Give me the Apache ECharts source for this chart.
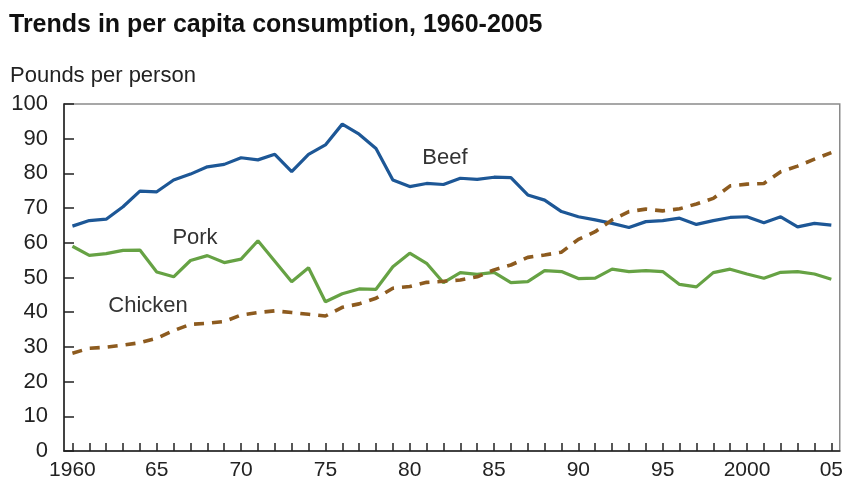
<!DOCTYPE html>
<html><head><meta charset="utf-8">
<script src="https://cdn.jsdelivr.net/npm/echarts@6/dist/echarts.min.js"></script>
<style>html,body{margin:0;padding:0;background:#fff}#c{width:846px;height:484px}</style>
</head><body><div id="c"></div>
<script>
const years = ['1960','1961','1962','1963','1964','1965','1966','1967','1968','1969',
  '1970','1971','1972','1973','1974','1975','1976','1977','1978','1979',
  '1980','1981','1982','1983','1984','1985','1986','1987','1988','1989',
  '1990','1991','1992','1993','1994','1995','1996','1997','1998','1999',
  '2000','2001','2002','2003','2004','2005'];
const beef = [64.8, 66.4, 66.8, 70.4, 74.9, 74.7, 78.1, 79.8, 81.9, 82.6,
  84.5, 83.9, 85.5, 80.5, 85.5, 88.2, 94.2, 91.3, 87.2, 78.1,
  76.2, 77.1, 76.8, 78.6, 78.3, 78.9, 78.8, 73.8, 72.3, 69.0,
  67.5, 66.6, 65.6, 64.4, 66.1, 66.4, 67.1, 65.3, 66.4, 67.3,
  67.5, 65.8, 67.5, 64.6, 65.6, 65.1];
const pork = [59.0, 56.4, 56.9, 57.8, 57.9, 51.6, 50.2, 54.9, 56.3, 54.3,
  55.3, 60.6, 54.7, 48.8, 52.8, 43.0, 45.3, 46.7, 46.6, 53.1,
  57.0, 54.1, 48.5, 51.4, 50.9, 51.5, 48.5, 48.8, 52.0, 51.7,
  49.7, 49.8, 52.4, 51.7, 52.0, 51.7, 48.0, 47.3, 51.4, 52.4,
  51.0, 49.8, 51.5, 51.7, 51.0, 49.5];
const chicken = [28.2, 29.6, 29.9, 30.5, 31.2, 32.5, 34.7, 36.5, 36.8, 37.3,
  39.2, 39.9, 40.4, 39.9, 39.4, 38.9, 41.4, 42.4, 44.0, 46.9,
  47.4, 48.6, 48.9, 49.3, 50.2, 52.2, 53.6, 55.8, 56.5, 57.3,
  61.0, 63.2, 66.6, 69.0, 69.7, 69.2, 69.8, 71.2, 72.8, 76.4,
  76.9, 77.1, 80.5, 82.1, 84.1, 86.0];
const yTicks = { min: 0, max: 100, step: 10 };
const titleText = 'Trends in per capita consumption, 1960-2005';
const unitText = 'Pounds per person';

const FONT = 'Liberation Sans, Arial, sans-serif';
const chart = echarts.init(document.getElementById('c'), null, { renderer: 'canvas' });
chart.setOption({
  animation: false,
  backgroundColor: '#fff',
  grid: { left: 64, right: 6, top: 104, bottom: 33, show: true, borderColor: '#8a8a8a', borderWidth: 1.5, backgroundColor: 'transparent' },
  xAxis: {
    type: 'category', data: years, boundaryGap: true,
    axisLine: { show: true, lineStyle: { color: '#222', width: 1.5 } },
    axisTick: { show: true, inside: true, length: 8, alignWithLabel: true, interval: 0, lineStyle: { color: '#222', width: 1.5 } },
    axisLabel: {
      interval: function (i) { return i % 5 === 0; },
      formatter: function (v) { return (v === '1960' || v === '2000') ? v : v.slice(2); },
      fontSize: 21, color: '#222', margin: 9, fontFamily: FONT
    },
    splitLine: { show: false }
  },
  yAxis: {
    type: 'value', min: yTicks.min, max: yTicks.max, interval: yTicks.step,
    axisLine: { show: true, lineStyle: { color: '#222', width: 1.5 } },
    axisTick: { show: true, inside: true, length: 10, lineStyle: { color: '#222', width: 1.5 } },
    axisLabel: { fontSize: 22, color: '#222', margin: 16, fontFamily: FONT },
    splitLine: { show: false }
  },
  series: [
    { name: 'Beef', type: 'line', data: beef, symbol: 'none', lineStyle: { color: '#1d5796', width: 3.2 }, z: 3 },
    { name: 'Pork', type: 'line', data: pork, symbol: 'none', lineStyle: { color: '#66a244', width: 3.2 }, z: 2 },
    { name: 'Chicken', type: 'line', data: chicken, symbol: 'none', lineStyle: { color: '#8d5b1f', width: 3.6, type: [10, 8] }, z: 4 }
  ],
  graphic: [
    { type: 'text', left: 9, top: 13, style: { text: titleText, font: 'bold 25px ' + FONT, fill: '#111' } },
    { type: 'text', left: 10, top: 65, style: { text: unitText, font: '22px ' + FONT, fill: '#222' } },
    { type: 'text', x: 445, y: 158, style: { text: 'Beef', font: '22px ' + FONT, fill: '#333', align: 'center', verticalAlign: 'middle' } },
    { type: 'text', x: 195, y: 238, style: { text: 'Pork', font: '22px ' + FONT, fill: '#333', align: 'center', verticalAlign: 'middle' } },
    { type: 'text', x: 148, y: 306, style: { text: 'Chicken', font: '22px ' + FONT, fill: '#333', align: 'center', verticalAlign: 'middle' } }
  ]
});
</script>
</body></html>
